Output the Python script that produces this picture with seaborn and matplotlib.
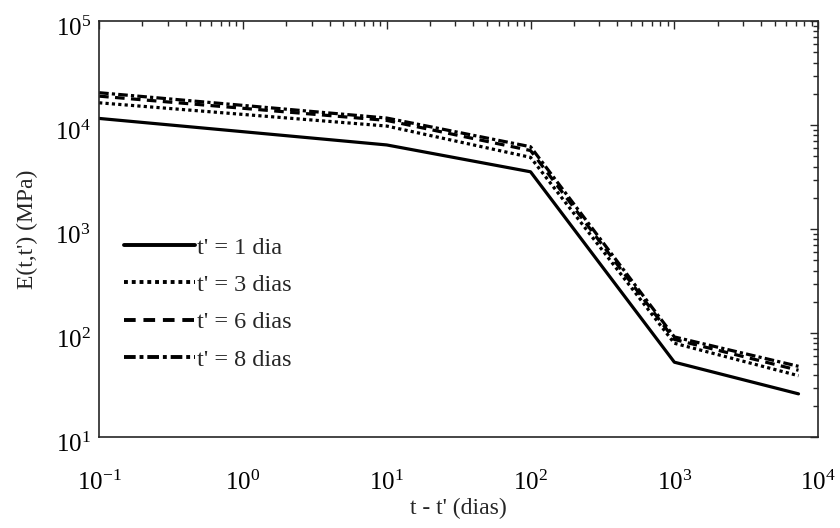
import numpy as np
import pandas as pd
import matplotlib
matplotlib.use("Agg")
import matplotlib.pyplot as plt
import matplotlib.transforms as mtransforms
import seaborn as sns
from matplotlib.ticker import LogLocator, NullFormatter

# Data
t_load = [0.1, 10, 100, 1000, 7300]
labels = ["t' = 1 dia", "t' = 3 dias", "t' = 6 dias", "t' = 8 dias"]
E_1 = [11600, 6450, 3560, 52.6, 26.1]
E_3 = [16400, 9800, 4900, 80, 39]
E_6 = [19000, 11100, 5700, 87, 44]
E_8 = [20500, 11700, 6200, 92, 48]

df = pd.DataFrame({
    "t": t_load * 4,
    "E": E_1 + E_3 + E_6 + E_8,
    "serie": [labels[0]] * 5 + [labels[1]] * 5 + [labels[2]] * 5 + [labels[3]] * 5,
})

sns.set_theme(style="white")
plt.rcParams["font.family"] = ["Liberation Serif", "DejaVu Serif"]
plt.rcParams["mathtext.fontset"] = "custom"
plt.rcParams["mathtext.rm"] = "Liberation Serif"

fig = plt.figure(figsize=(8.4, 5.28), dpi=100)
ax = fig.add_axes([0.118, 0.172, 0.856, 0.788])

dashes = {labels[0]: "", labels[1]: (1, 1), labels[2]: (3, 2), labels[3]: (3, 1, 1, 1)}
sns.lineplot(data=df, x="t", y="E", style="serie", dashes=dashes,
             color="black", linewidth=2.3, ax=ax, legend=True)

ax.set_xscale("log")
ax.set_yscale("log")
ax.set_xlim(0.1, 1e4)
ax.set_ylim(10, 1e5)
ax.xaxis.set_major_locator(LogLocator(base=10, numticks=10))
ax.yaxis.set_major_locator(LogLocator(base=10, numticks=10))
ax.xaxis.set_minor_locator(LogLocator(base=10, subs=np.arange(2, 10), numticks=20))
ax.yaxis.set_minor_locator(LogLocator(base=10, subs=np.arange(2, 10), numticks=20))
ax.xaxis.set_minor_formatter(NullFormatter())
ax.yaxis.set_minor_formatter(NullFormatter())
ax.tick_params(which="both", direction="in", top=True, right=True, colors="#262626",
               labelcolor="black", labelsize=18)
ax.tick_params(which="major", length=6, width=1)
ax.tick_params(which="minor", length=3.5, width=1)
ax.tick_params(axis="x", which="major", pad=24)
ax.tick_params(axis="y", which="major", pad=6)
for s in ax.spines.values():
    s.set_color("#262626")
    s.set_linewidth(1.2)

# shift y tick labels slightly down (MATLAB-like superscript placement)
offset = mtransforms.ScaledTranslation(0, -5 / 100, fig.dpi_scale_trans)
for lab in ax.get_yticklabels():
    lab.set_transform(lab.get_transform() + offset)

ax.set_xlabel("t - t' (dias)", fontsize=17, labelpad=2)
ax.set_ylabel("E(t,t') (MPa)", fontsize=17, labelpad=12)

leg = ax.legend(loc="upper left", bbox_to_anchor=(0.035, 0.482), frameon=False,
                fontsize=17.5, handlelength=2.9, handletextpad=0.1, labelspacing=0.63,
                borderaxespad=0.0, borderpad=0.0)
for line in leg.get_lines():
    line.set_linewidth(2.8)

fig.savefig("out.png", dpi=100)
